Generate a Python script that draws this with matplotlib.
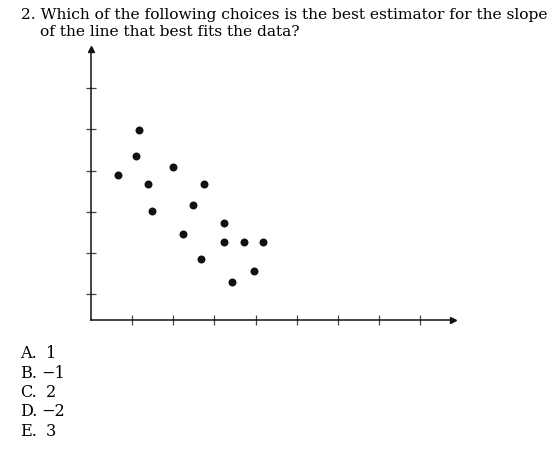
import numpy as np
import matplotlib
matplotlib.use("Agg")
import matplotlib.pyplot as plt

# scatter data (axis units = tick marks)
x_vals = [0.67, 1.10, 1.17, 1.38, 1.48, 1.99, 2.25, 2.47, 2.68, 2.76, 3.24, 3.24, 3.44, 3.71, 3.96, 4.19]
y_vals = [3.90, 4.35, 4.98, 3.67, 3.02, 4.10, 2.46, 3.17, 1.85, 3.67, 2.73, 2.27, 1.31, 2.27, 1.57, 2.27]

x_ticks = [1, 2, 3, 4, 5, 6, 7, 8]
y_ticks = [1, 2, 3, 4, 5, 6]

question = ["2. Which of the following choices is the best estimator for the slope",
            "of the line that best fits the data?"]
choice_letters = ["A.", "B.", "C.", "D.", "E."]
choice_values = ["1", "\u22121", "2", "\u22122", "3"]

W, H = 557, 452
fig = plt.figure(figsize=(W / 100, H / 100), dpi=100)
serif = "DejaVu Serif"


def px(x, y):
    return x / W, 1 - y / H


# question text
fig.text(*px(21, 19), question[0], family=serif, fontsize=11.15, va="baseline", ha="left")
fig.text(*px(40.5, 36.5), question[1], family=serif, fontsize=11.15, va="baseline", ha="left")

# axes: origin at (90.7, 321) px, arrow ends at x=453, y=50
x0, y0, x1, y1 = 90.7, 321, 453, 50
ax = fig.add_axes([x0 / W, 1 - y0 / H, (x1 - x0) / W, (y0 - y1) / H])
ax.set_xlim(0, 8.79)
ax.set_ylim(0.378, 6.95)

ax.scatter(x_vals, y_vals, s=33, c="#111111", linewidths=0, zorder=3)

for s in ["top", "right"]:
    ax.spines[s].set_visible(False)
for s in ["left", "bottom"]:
    ax.spines[s].set_linewidth(1.1)
    ax.spines[s].set_color("#111111")

ax.set_xticks(x_ticks)
ax.set_yticks(y_ticks)
ax.set_xticklabels([])
ax.set_yticklabels([])
ax.tick_params(direction="inout", length=7, width=0.9, color="#444444")

# arrow heads
ax.plot(1, 0, ">", color="#111111", ms=4, transform=ax.transAxes, clip_on=False)
ax.plot(0, 1, "^", color="#111111", ms=4, transform=ax.transAxes, clip_on=False)

# answer choices
for i in range(len(choice_letters)):
    yb = 358.3 + i * 19.4
    fig.text(*px(20.5, yb), choice_letters[i], family=serif, fontsize=11.6, va="baseline")
    xv = 41.5 if choice_values[i].startswith("\u2212") else 46
    fig.text(*px(xv, yb), choice_values[i], family=serif, fontsize=11.6, va="baseline")

fig.savefig("out.png", dpi=100)
